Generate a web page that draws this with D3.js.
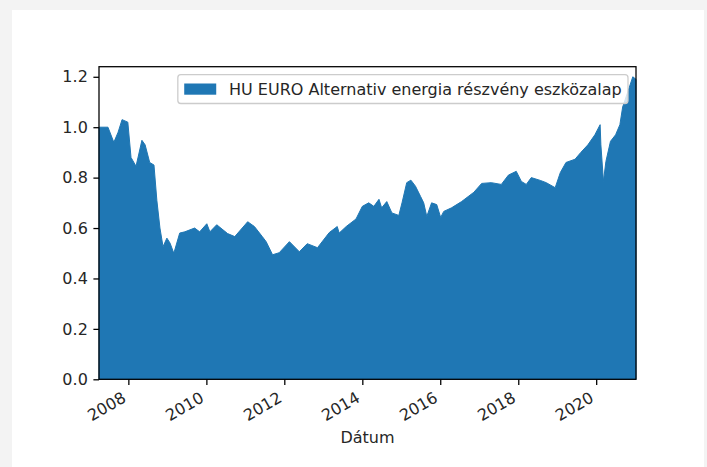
<!DOCTYPE html>
<html>
<head>
<meta charset="utf-8">
<script src="https://cdn.jsdelivr.net/npm/d3@7"></script>
<style>
  html, body { margin: 0; padding: 0; background: #f3f3f3; }
  svg { display: block; font-family: "DejaVu Sans", sans-serif; }
</style>
</head>
<body>
<div id="chart"></div>
<script>
// values
const dates = [
  "2007-04-01","2007-06-24","2007-08-18","2007-09-27","2007-11-03","2007-12-27",
  "2008-01-26","2008-03-13","2008-05-07","2008-06-06","2008-07-19","2008-08-28",
  "2008-09-24","2008-10-23","2008-11-21","2008-12-27","2009-01-26","2009-03-02",
  "2009-04-26","2009-06-13","2009-09-13","2009-10-30","2010-01-05","2010-02-03",
  "2010-04-08","2010-07-19","2010-09-24","2011-01-23","2011-03-27","2011-06-09",
  "2011-07-15","2011-09-13","2011-11-14","2012-02-18","2012-05-21","2012-08-03",
  "2012-11-07","2013-02-25","2013-05-11","2013-05-29","2013-08-03","2013-11-03",
  "2014-01-01","2014-03-02","2014-04-19","2014-06-06","2014-07-01","2014-08-18",
  "2014-10-05","2014-12-09","2015-01-08","2015-02-21","2015-04-01","2015-05-14",
  "2015-07-01","2015-07-30","2015-08-28","2015-10-12","2015-11-29","2016-01-05",
  "2016-02-03","2016-04-15","2016-07-19","2016-11-11","2017-01-23","2017-04-23",
  "2017-07-26","2017-10-01","2017-12-13","2018-01-30","2018-03-17","2018-05-03",
  "2018-07-26","2018-09-20","2018-12-13","2019-01-30","2019-03-24","2019-06-17",
  "2019-08-10","2019-10-15","2019-12-20","2020-02-07","2020-02-14","2020-03-09",
  "2020-04-01","2020-05-14","2020-07-01","2020-08-10","2020-09-05","2020-10-23",
  "2020-12-09","2021-01-08"
];
const values = [
  1.00, 1.00, 0.94, 0.98, 1.03, 1.02,
  0.88, 0.845, 0.948, 0.93, 0.86, 0.85,
  0.71, 0.60, 0.526, 0.56, 0.54, 0.50,
  0.58, 0.585, 0.60, 0.585, 0.617, 0.585,
  0.613, 0.578, 0.566, 0.625, 0.606, 0.566,
  0.546, 0.494, 0.502, 0.546, 0.506, 0.538,
  0.522, 0.582, 0.606, 0.58, 0.606, 0.636,
  0.686, 0.70, 0.686, 0.714, 0.68, 0.705,
  0.66, 0.65, 0.70, 0.78, 0.79, 0.766,
  0.725, 0.70, 0.646, 0.70, 0.693, 0.642,
  0.666, 0.68, 0.705, 0.742, 0.777, 0.78,
  0.773, 0.81, 0.825, 0.785, 0.773, 0.80,
  0.789, 0.78, 0.76, 0.82, 0.86, 0.873,
  0.90, 0.93, 0.97, 1.01, 0.93, 0.785,
  0.864, 0.944, 0.97, 1.01, 1.08, 1.14,
  1.20, 1.19
];
const xTickYears = [2008, 2010, 2012, 2014, 2016, 2018, 2020];
const yTicks = [0.0, 0.2, 0.4, 0.6, 0.8, 1.0, 1.2];
const seriesName = "HU EURO Alternativ energia részvény eszközalap";
const xLabel = "Dátum";

const width = 707;
const height = 467;
const margin = {top: 66.7, right: 71, bottom: 87.7, left: 99};
const innerWidth = width - margin.left - margin.right;
const innerHeight = height - margin.top - margin.bottom;
const fontSize = 16;
const textColor = "#262626";

const parse = d3.timeParse("%Y-%m-%d");
const data = dates.map((d, i) => ({date: parse(d), value: values[i]}));

const svg = d3.select("#chart").append("svg")
    .attr("width", width)
    .attr("height", height);

// white figure panel
svg.append("rect")
    .attr("x", 12).attr("y", 10)
    .attr("width", 692).attr("height", height - 10)
    .attr("fill", "#ffffff");

const g = svg.append("g")
    .attr("transform", `translate(${margin.left}, ${margin.top})`);

const xScale = d3.scaleTime()
    .domain(d3.extent(data, d => d.date))
    .range([0, innerWidth]);

const yScale = d3.scaleLinear()
    .domain([0, 1.24])
    .range([innerHeight, 0]);

const area = d3.area()
    .x(d => xScale(d.date))
    .y0(yScale(0))
    .y1(d => yScale(d.value));

g.append("path")
    .datum(data)
    .attr("d", area)
    .attr("fill", "#1f77b4")
    .attr("stroke", "#1f77b4")
    .attr("stroke-width", 1);

// y axis
const yAxis = d3.axisLeft(yScale)
    .tickValues(yTicks)
    .tickFormat(d3.format(".1f"))
    .tickSize(5.6)
    .tickPadding(5.6)
    .tickSizeOuter(0);
const yg = g.append("g").call(yAxis);
yg.select(".domain").remove();
yg.selectAll(".tick line").attr("stroke", "#000").attr("stroke-width", 1.28);
yg.selectAll(".tick text")
    .attr("font-size", fontSize)
    .attr("font-family", "DejaVu Sans")
    .attr("fill", textColor);

// x axis, labels rotated 30 degrees and right-aligned like autofmt_xdate
const xAxis = d3.axisBottom(xScale)
    .tickValues(xTickYears.map(y => new Date(y, 0, 1)))
    .tickFormat(d3.timeFormat("%Y"))
    .tickSize(5.6)
    .tickSizeOuter(0);
const xg = g.append("g")
    .attr("transform", `translate(0, ${innerHeight})`)
    .call(xAxis);
xg.select(".domain").remove();
xg.selectAll(".tick line").attr("stroke", "#000").attr("stroke-width", 1.28);
const asc = 0.76 * fontSize, desc = 0.23 * fontSize;
xg.selectAll(".tick text")
    .attr("font-size", fontSize)
    .attr("font-family", "DejaVu Sans")
    .attr("fill", textColor)
    .attr("text-anchor", "end")
    .attr("dy", null)
    .attr("y", 0)
    .attr("transform", `translate(${-0.5 * desc}, ${11.2 + 0.866 * asc}) rotate(-30)`);

// frame
g.append("rect")
    .attr("width", innerWidth)
    .attr("height", innerHeight)
    .attr("fill", "none")
    .attr("stroke", "#000")
    .attr("stroke-width", 1.28);

// x label
g.append("text")
    .attr("x", innerWidth / 2)
    .attr("y", innerHeight + 64)
    .attr("text-anchor", "middle")
    .attr("font-size", fontSize)
    .attr("fill", textColor)
    .text(xLabel);

// legend in the upper right
const legend = g.append("g");
const legText = legend.append("text")
    .attr("font-size", fontSize)
    .attr("fill", textColor)
    .text(seriesName);
const textW = legText.node().getComputedTextLength();
const pad = 6.4, handleW = 32, handleH = 11.2, gap = 12.8;
const boxW = pad + handleW + gap + textW + pad;
const boxH = 28.8;
const boxX = innerWidth - 8 - boxW;
const boxY = 8;
legend.insert("rect", "text")
    .attr("x", boxX).attr("y", boxY)
    .attr("width", boxW).attr("height", boxH)
    .attr("rx", 3)
    .attr("fill", "#ffffff").attr("fill-opacity", 0.8)
    .attr("stroke", "#cccccc").attr("stroke-width", 1.28);
legend.insert("rect", "text")
    .attr("x", boxX + pad).attr("y", boxY + boxH / 2 - handleH / 2)
    .attr("width", handleW).attr("height", handleH)
    .attr("fill", "#1f77b4");
legText
    .attr("x", boxX + pad + handleW + gap)
    .attr("y", boxY + boxH / 2 + 0.36 * fontSize);
</script>
</body>
</html>
